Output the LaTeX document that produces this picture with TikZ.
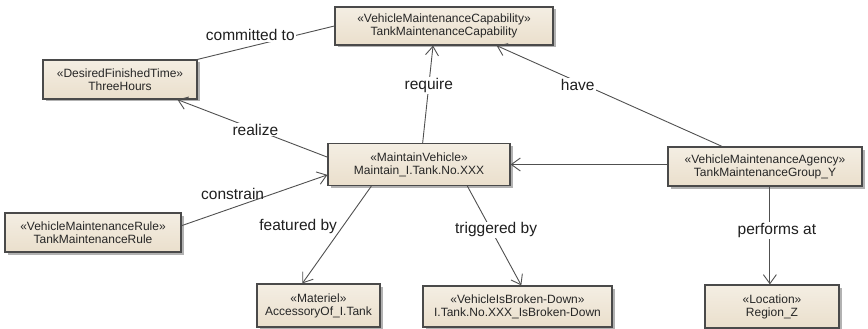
\documentclass[tikz,border=0pt]{standalone}
\usepackage{fontspec}
\setmainfont{Liberation Sans}
\usetikzlibrary{arrows.meta,shadows,calc}
\definecolor{boxtop}{HTML}{F4EEE3}
\definecolor{boxbot}{HTML}{EADFCC}
\definecolor{boxline}{HTML}{4A4A4A}
\definecolor{edgecol}{HTML}{505050}
\definecolor{txt}{HTML}{262626}
\begin{document}
\begin{tikzpicture}[x=1pt,y=-1pt,
  cls/.style={draw=boxline, line width=1.2pt, top color=boxtop, bottom color=boxbot,
    align=center, font=\fontsize{12}{13}\selectfont, text=txt, inner sep=0pt,
    drop shadow={shadow xshift=2.5pt, shadow yshift=-2.5pt, fill=black, opacity=0.3}},
  rel/.style={draw=edgecol, line width=0.9pt},
  nav/.style={rel, -{Straight Barb[length=9pt,width=13pt]}},
  lbl/.style={font=\fontsize{15.5}{17}\selectfont, text=black!88, inner sep=1pt},
  lblw/.style={lbl, fill=white}
]
\useasboundingbox (0,0) rectangle (868,329);

\node[cls, minimum width=218pt, minimum height=38pt] (cap) at (444,26)
  {«VehicleMaintenanceCapability»\\TankMaintenanceCapability};
\node[cls, minimum width=154pt, minimum height=39pt] (three) at (120,79.5)
  {«DesiredFinishedTime»\\ThreeHours};
\node[cls, minimum width=182pt, minimum height=42pt] (mv) at (419,164.5)
  {«MaintainVehicle»\\Maintain\_I.Tank.No.XXX};
\node[cls, minimum width=194pt, minimum height=39pt] (agency) at (765,166.5)
  {«VehicleMaintenanceAgency»\\TankMaintenanceGroup\_Y};
\node[cls, minimum width=176pt, minimum height=39pt] (rule) at (93,232.5)
  {«VehicleMaintenanceRule»\\TankMaintenanceRule};
\node[cls, minimum width=123pt, minimum height=43pt] (mat) at (318.5,305.5)
  {«Materiel»\\AccessoryOf\_I.Tank};
\node[cls, minimum width=189pt, minimum height=41pt] (broken) at (517.5,306.5)
  {«VehicleIsBroken-Down»\\I.Tank.No.XXX\_IsBroken-Down};
\node[cls, minimum width=134pt, minimum height=43pt] (region) at (772,306.5)
  {«Location»\\Region\_Z};

% committed to
\draw[rel] (three.north east) -- (cap.west)
  node[lblw, pos=0.72, anchor=east] {committed to};
% realize
\draw[nav] ($(mv.north west)!0.33!(mv.south west)$) -- ($(three.south west)!0.87!(three.south east)$)
  node[lblw, pos=0.48] {realize};
% require
\draw[nav] ($(mv.north west)!0.52!(mv.north east)$) -- ($(cap.south west)!0.45!(cap.south east)$)
  node[lblw, pos=0.59] {require};
% have
\draw[nav] ($(agency.north west)!0.28!(agency.north east)$) -- ($(cap.south west)!0.74!(cap.south east)$)
  node[lblw, pos=0.64, yshift=-3pt] {have};
% agency -> maintain vehicle
\draw[nav] (agency.west |- mv.east) -- (mv.east);
% constrain
\draw[nav] ($(rule.north east)!0.33!(rule.south east)$) -- ($(mv.north west)!0.74!(mv.south west)$)
  node[lbl, pos=0.35, above=7pt] {constrain};
% featured by
\draw[nav] ($(mv.south west)!0.24!(mv.south east)$) -- ($(mat.north west)!0.37!(mat.north east)$)
  node[lbl, pos=0.42, left=4pt] {featured by};
% triggered by
\draw[nav] ($(mv.south west)!0.764!(mv.south east)$) -- ($(broken.north west)!0.52!(broken.north east)$)
  node[lblw, pos=0.44, xshift=5pt] {triggered by};
% performs at
\coordinate (pa) at ($(agency.south west)!0.525!(agency.south east)$);
\draw[nav] (pa) -- (pa |- region.north)
  node[lblw, pos=0.45, xshift=7pt] {performs at};
\end{tikzpicture}
\end{document}
